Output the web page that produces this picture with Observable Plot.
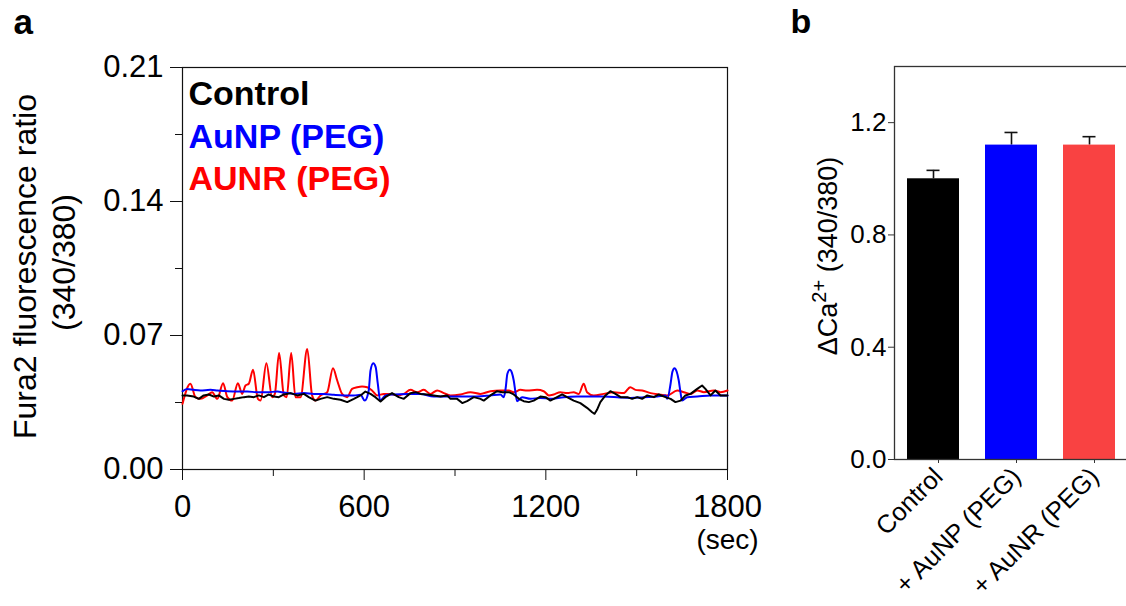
<!DOCTYPE html>
<html><head><meta charset="utf-8">
<script src="https://cdn.jsdelivr.net/npm/d3@7"></script>
<script src="https://cdn.jsdelivr.net/npm/@observablehq/plot@0.6"></script>
<style>
html,body{margin:0;padding:0;background:#fff;overflow:hidden}
#wrap{position:relative;width:1126px;height:606px;overflow:hidden;font-family:Arial,"Liberation Sans",Helvetica,sans-serif}
#wrap svg{position:absolute;top:0;overflow:visible}
</style></head><body><div id="wrap"></div>
<script>
// ---------- Panel a data: Fura2 ratio traces [time (s), ratio] ----------
const seriesNames = ["Control", "AuNP (PEG)", "AUNR (PEG)"];
const seriesColors = ["#000000", "#0000ff", "#ff0000"];
const aunrTrace = [[0,0.0343],[26,0.0448],[43,0.0378],[59,0.0369],[82,0.0387],[98,0.0404],[115,0.0369],[134,0.0451],[148,0.0378],[164,0.0360],[183,0.0451],[197,0.0395],[208,0.0439],[219,0.0448],[233,0.0521],[249,0.0369],[258,0.0360],[277,0.0555],[296,0.0378],[305,0.0395],[319,0.0608],[335,0.0387],[344,0.0378],[359,0.0608],[373,0.0378],[390,0.0378],[412,0.0630],[428,0.0387],[439,0.0360],[456,0.0387],[478,0.0404],[497,0.0529],[511,0.0465],[527,0.0395],[544,0.0378],[560,0.0421],[577,0.0430],[593,0.0434],[610,0.0430],[626,0.0413],[643,0.0387],[665,0.0395],[687,0.0395],[709,0.0387],[731,0.0395],[753,0.0416],[775,0.0404],[797,0.0416],[819,0.0395],[841,0.0413],[863,0.0399],[885,0.0387],[918,0.0392],[951,0.0404],[984,0.0395],[1017,0.0409],[1050,0.0413],[1078,0.0413],[1094,0.0404],[1116,0.0416],[1138,0.0413],[1171,0.0416],[1193,0.0409],[1210,0.0387],[1226,0.0392],[1248,0.0404],[1270,0.0399],[1292,0.0404],[1309,0.0395],[1325,0.0448],[1336,0.0404],[1358,0.0387],[1391,0.0395],[1424,0.0404],[1457,0.0399],[1479,0.0430],[1496,0.0416],[1518,0.0413],[1546,0.0399],[1573,0.0392],[1601,0.0387],[1634,0.0413],[1656,0.0404],[1678,0.0395],[1700,0.0413],[1722,0.0404],[1755,0.0413],[1777,0.0404],[1800,0.0413]];
const aunpTrace = [[0,0.0409],[15,0.0421],[37,0.0416],[59,0.0413],[92,0.0416],[115,0.0413],[148,0.0409],[181,0.0407],[214,0.0407],[247,0.0404],[280,0.0404],[313,0.0407],[335,0.0402],[368,0.0395],[401,0.0399],[434,0.0395],[467,0.0395],[500,0.0390],[533,0.0387],[566,0.0387],[588,0.0390],[602,0.0360],[615,0.0413],[621,0.0517],[630,0.0555],[638,0.0535],[645,0.0448],[653,0.0360],[670,0.0387],[698,0.0392],[742,0.0395],[786,0.0395],[830,0.0381],[874,0.0381],[929,0.0381],[973,0.0381],[1017,0.0387],[1050,0.0392],[1061,0.0378],[1067,0.0421],[1073,0.0500],[1081,0.0521],[1088,0.0505],[1094,0.0465],[1100,0.0400],[1105,0.0357],[1122,0.0378],[1149,0.0369],[1182,0.0374],[1215,0.0369],[1259,0.0378],[1303,0.0381],[1347,0.0381],[1391,0.0381],[1436,0.0378],[1480,0.0374],[1524,0.0378],[1568,0.0381],[1595,0.0387],[1601,0.0369],[1612,0.0448],[1618,0.0510],[1625,0.0529],[1632,0.0512],[1639,0.0465],[1645,0.0400],[1650,0.0360],[1667,0.0378],[1700,0.0381],[1744,0.0387],[1800,0.0387]];
const controlTrace = [[0,0.0387],[15,0.0387],[37,0.0381],[54,0.0369],[70,0.0387],[87,0.0392],[104,0.0381],[120,0.0387],[137,0.0369],[153,0.0364],[170,0.0369],[186,0.0373],[203,0.0378],[219,0.0381],[236,0.0378],[252,0.0387],[269,0.0378],[285,0.0392],[302,0.0381],[318,0.0378],[335,0.0392],[357,0.0399],[379,0.0387],[401,0.0395],[417,0.0378],[439,0.0360],[456,0.0369],[478,0.0378],[500,0.0369],[522,0.0364],[544,0.0352],[566,0.0369],[588,0.0387],[604,0.0407],[621,0.0395],[637,0.0378],[654,0.0355],[670,0.0378],[692,0.0399],[714,0.0378],[731,0.0369],[753,0.0399],[770,0.0404],[786,0.0395],[808,0.0392],[830,0.0387],[852,0.0381],[874,0.0387],[885,0.0369],[907,0.0369],[924,0.0347],[940,0.0357],[962,0.0378],[984,0.0369],[995,0.0360],[1017,0.0387],[1039,0.0409],[1056,0.0404],[1078,0.0404],[1094,0.0392],[1111,0.0369],[1127,0.0357],[1144,0.0352],[1160,0.0360],[1182,0.0381],[1199,0.0378],[1215,0.0360],[1237,0.0378],[1254,0.0392],[1270,0.0378],[1292,0.0360],[1314,0.0347],[1336,0.0322],[1353,0.0299],[1361,0.0291],[1369,0.0312],[1380,0.0352],[1397,0.0387],[1413,0.0409],[1430,0.0395],[1447,0.0378],[1469,0.0378],[1485,0.0369],[1502,0.0378],[1518,0.0369],[1535,0.0387],[1557,0.0378],[1573,0.0392],[1595,0.0378],[1612,0.0369],[1628,0.0352],[1645,0.0360],[1661,0.0387],[1678,0.0395],[1700,0.0421],[1716,0.0439],[1727,0.0421],[1744,0.0387],[1760,0.0413],[1777,0.0387],[1800,0.0387]];
const xTicksA = [0, 600, 1200, 1800];
const xMinorTicksA = [300, 900, 1500];
const yTicksA = [0, 0.07, 0.14, 0.21];
const yMinorTicksA = [0.035, 0.105, 0.175];

// ---------- Panel b data ----------
const barCategories = ["Control", "+ AuNP (PEG)", "+ AuNR (PEG)"];
const barMeans = [1.0, 1.12, 1.12];
const barErrors = [0.03, 0.045, 0.03];
const barColors = ["#000000", "#0000ff", "#f94242"];
const yTicksB = [0, 0.4, 0.8, 1.2];

const FONT = 'Arial, "Liberation Sans", Helvetica, sans-serif';
const toRows = (arr) => arr.map(([t, v]) => ({t, v}));
const wrap = document.getElementById("wrap");

// ---------- Panel a ----------
const plotA = Plot.plot({
  width: 770, height: 606,
  marginLeft: 182, marginRight: 43, marginTop: 67, marginBottom: 137,
  style: {fontFamily: FONT, fontSize: "31px", color: "#000", background: "transparent", overflow: "visible"},
  x: {domain: [0, 1800]},
  y: {domain: [0, 0.21]},
  marks: [
    Plot.frame({stroke: "#111", strokeWidth: 1.2}),
    Plot.line(toRows(aunrTrace), {x: "t", y: "v", stroke: seriesColors[2], strokeWidth: 2, curve: "monotone-x"}),
    Plot.line(toRows(aunpTrace), {x: "t", y: "v", stroke: seriesColors[1], strokeWidth: 2, curve: "monotone-x"}),
    Plot.line(toRows(controlTrace), {x: "t", y: "v", stroke: seriesColors[0], strokeWidth: 2}),
    Plot.axisY({ticks: yTicksA, tickSize: 12, tickPadding: 7, tickFormat: d3.format(".2f"), label: null, stroke: "#111"}),
    Plot.axisY({ticks: yMinorTicksA, tickSize: 7, tickFormat: () => "", label: null, stroke: "#111"}),
    Plot.axisX({ticks: xTicksA, tickSize: 11, tickPadding: 14, tickFormat: d3.format("d"), label: null, stroke: "#111"}),
    Plot.axisX({ticks: xMinorTicksA, tickSize: 7, tickFormat: () => "", label: null, stroke: "#111"}),
    Plot.text(["(sec)"], {frameAnchor: "bottom-right", textAnchor: "middle", lineAnchor: "bottom", dy: 79, fontSize: 28}),
    Plot.text(["Fura2 fluorescence ratio"], {frameAnchor: "left", rotate: -90, textAnchor: "middle", lineAnchor: "bottom", dx: -147, dy: -2, fontSize: 32}),
    Plot.text(["(340/380)"], {frameAnchor: "left", rotate: -90, textAnchor: "middle", lineAnchor: "bottom", dx: -108, dy: -6, fontSize: 32}),
    Plot.text([seriesNames[0]], {frameAnchor: "top-left", textAnchor: "start", lineAnchor: "bottom", dx: 6, dy: 37, fontSize: 34, fontWeight: "bold", fill: seriesColors[0]}),
    Plot.text([seriesNames[1]], {frameAnchor: "top-left", textAnchor: "start", lineAnchor: "bottom", dx: 6, dy: 80, fontSize: 34, fontWeight: "bold", fill: seriesColors[1]}),
    Plot.text([seriesNames[2]], {frameAnchor: "top-left", textAnchor: "start", lineAnchor: "bottom", dx: 6, dy: 122, fontSize: 34, fontWeight: "bold", fill: seriesColors[2]}),
    Plot.text(["a"], {frameAnchor: "top-left", textAnchor: "start", lineAnchor: "bottom", dx: -169, dy: -34, fontSize: 35, fontWeight: "bold"})
  ]
});
plotA.style.left = "0px";
wrap.appendChild(plotA);

// ---------- Panel b ----------
const barRows = barCategories.map((c, i) => ({cat: c, mean: barMeans[i], err: barErrors[i]}));
const plotB = Plot.plot({
  width: 360, height: 606,
  marginLeft: 114, marginRight: 5, marginTop: 66, marginBottom: 147,
  style: {fontFamily: FONT, fontSize: "26px", color: "#000", background: "transparent", overflow: "visible"},
  x: {domain: barCategories, range: [114, 348], paddingInner: 1/3, paddingOuter: 1/6},
  y: {domain: [0, 1.4]},
  color: {domain: barCategories, range: barColors},
  marks: [
    Plot.ruleX(barRows, {x: "cat", y1: "mean", y2: d => d.mean + d.err, stroke: "#111", strokeWidth: 1.6}),
    Plot.tickY(barRows, {x: "cat", y: d => d.mean + d.err, stroke: "#111", strokeWidth: 1.6, insetLeft: 19.5, insetRight: 19.5}),
    Plot.barY(barRows, {x: "cat", y: "mean", fill: "cat"}),
    Plot.frame({stroke: "#333", strokeWidth: 1.3}),
    Plot.axisY({ticks: yTicksB, tickSize: 6, tickPadding: 2, tickFormat: d3.format(".1f"), label: null, stroke: "#333"}),
    Plot.axisX({tickSize: 4, tickRotate: -45, tickPadding: 9, dx: 5, label: null, fontSize: 25.5, stroke: "#333"}),
    Plot.text(["ΔCa2+ (340/380)"], {frameAnchor: "left", rotate: -90, textAnchor: "middle", lineAnchor: "bottom", dx: -58, dy: -7, fontSize: 27}),
    Plot.text(["b"], {frameAnchor: "top-left", textAnchor: "start", lineAnchor: "bottom", dx: -104, dy: -34, fontSize: 34, fontWeight: "bold"})
  ]
});
plotB.style.left = "780px";
wrap.appendChild(plotB);

// superscript for ΔCa2+
d3.select(plotB).selectAll("text").filter(function() { return this.textContent === "ΔCa2+ (340/380)"; })
  .each(function() {
    const t = d3.select(this);
    t.text(null);
    t.append("tspan").text("ΔCa");
    t.append("tspan").attr("dy", -11).attr("font-size", 20).text("2+");
    t.append("tspan").attr("dy", 11).text(" (340/380)");
  });
</script></body></html>
